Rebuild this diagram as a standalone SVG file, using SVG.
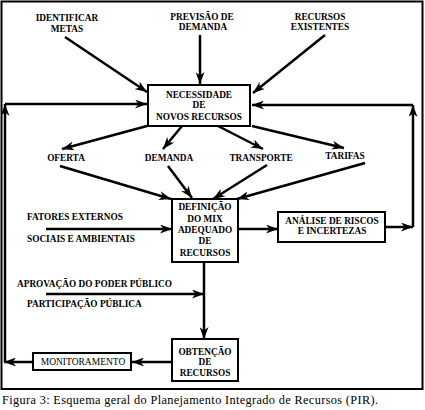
<svg xmlns="http://www.w3.org/2000/svg" width="425" height="410" viewBox="0 0 425 410">
<defs>
<marker id="ah" markerUnits="userSpaceOnUse" markerWidth="13" markerHeight="9" refX="12" refY="4.5" orient="auto">
<path d="M0,0 L12,4.5 L0,9 L3.5,4.5 z" fill="#000"/>
</marker>
</defs>
<style>
.lbl{font-family:"Liberation Serif","Times New Roman",serif;font-weight:bold;font-size:9.3px;fill:#000}
.reg{font-family:"Liberation Serif","Times New Roman",serif;font-size:9.5px;fill:#000}
.cap{font-family:"Liberation Serif","Times New Roman",serif;font-size:12.3px;fill:#000}
.box{fill:#fff;stroke:#000;stroke-width:2}
.c{fill:none;stroke:#000;stroke-width:2.5}
.c.a{marker-end:url(#ah)}
</style>
<rect x="1.5" y="1.5" width="421" height="387.5" fill="none" stroke="#000" stroke-width="2"/>
<g id="connectors">
<line class="c a" x1="65" y1="37" x2="147" y2="92"/>
<line class="c a" x1="200" y1="35" x2="200" y2="84"/>
<line class="c a" x1="325" y1="35" x2="253" y2="93"/>
<polyline class="c a" points="5,362 5,104"/>
<line class="c a" x1="5" y1="104" x2="147" y2="104"/>
<polyline class="c a" points="386,227 413,227"/>
<polyline class="c a" points="413,227 413,105"/>
<line class="c a" x1="413" y1="105" x2="252" y2="105"/>
<line class="c a" x1="147" y1="126" x2="62" y2="149"/>
<line class="c a" x1="182" y1="126" x2="163" y2="149"/>
<line class="c a" x1="218" y1="126" x2="263" y2="149"/>
<line class="c a" x1="252" y1="126" x2="344" y2="148"/>
<line class="c a" x1="60" y1="166" x2="171" y2="199"/>
<line class="c a" x1="168" y1="166" x2="192" y2="198"/>
<line class="c a" x1="267" y1="165" x2="213" y2="199"/>
<line class="c a" x1="365" y1="163" x2="237" y2="199"/>
<line class="c a" x1="46" y1="229" x2="172" y2="229"/>
<line class="c a" x1="238" y1="229" x2="278" y2="229"/>
<line class="c a" x1="204" y1="262" x2="204" y2="339"/>
<line class="c a" x1="46" y1="294" x2="204" y2="294"/>
<line class="c a" x1="172" y1="362" x2="132" y2="362"/>
<line class="c a" x1="33" y1="362" x2="4" y2="362"/>
</g>
<g id="identificar">
<text class="lbl" x="67" y="21" text-anchor="middle">IDENTIFICAR</text>
<text class="lbl" x="67" y="32" text-anchor="middle">METAS</text>
</g>
<g id="previsao">
<text class="lbl" x="202" y="19.5" text-anchor="middle">PREVISÃO DE</text>
<text class="lbl" x="203" y="29.5" text-anchor="middle">DEMANDA</text>
</g>
<g id="recursos-existentes">
<text class="lbl" x="320" y="19.5" text-anchor="middle">RECURSOS</text>
<text class="lbl" x="320" y="29.5" text-anchor="middle">EXISTENTES</text>
</g>
<g id="necessidade">
<rect class="box" x="148" y="85" width="102" height="41"/>
<text class="lbl" x="199" y="97.5" text-anchor="middle">NECESSIDADE</text>
<text class="lbl" x="199" y="108" text-anchor="middle">DE</text>
<text class="lbl" x="199" y="119.5" text-anchor="middle">NOVOS RECURSOS</text>
</g>
<g id="oferta"><text class="lbl" x="66" y="161" text-anchor="middle">OFERTA</text></g>
<g id="demanda"><text class="lbl" x="169" y="161" text-anchor="middle">DEMANDA</text></g>
<g id="transporte"><text class="lbl" x="261" y="161" text-anchor="middle">TRANSPORTE</text></g>
<g id="tarifas"><text class="lbl" x="345" y="158.5" text-anchor="middle">TARIFAS</text></g>
<g id="definicao">
<rect class="box" x="172" y="199" width="66" height="63"/>
<text class="lbl" x="205" y="210" text-anchor="middle">DEFINIÇÃO</text>
<text class="lbl" x="205" y="222" text-anchor="middle">DO MIX</text>
<text class="lbl" x="205" y="233" text-anchor="middle">ADEQUADO</text>
<text class="lbl" x="205" y="244" text-anchor="middle">DE</text>
<text class="lbl" x="205" y="255.5" text-anchor="middle">RECURSOS</text>
</g>
<g id="analise">
<rect class="box" x="278" y="212" width="107" height="30"/>
<text class="lbl" x="332" y="223.5" text-anchor="middle">ANÁLISE DE RISCOS</text>
<text class="lbl" x="332" y="233.5" text-anchor="middle">E INCERTEZAS</text>
</g>
<g id="fatores">
<text class="lbl" x="27" y="220">FATORES EXTERNOS</text>
<text class="lbl" x="27" y="242">SOCIAIS E AMBIENTAIS</text>
</g>
<g id="aprovacao">
<text class="lbl" x="17" y="287">APROVAÇÃO DO PODER PÚBLICO</text>
<text class="lbl" x="27" y="307">PARTICIPAÇÃO PÚBLICA</text>
</g>
<g id="obtencao">
<rect class="box" x="172" y="339" width="66" height="42"/>
<text class="lbl" x="205" y="355" text-anchor="middle">OBTENÇÃO</text>
<text class="lbl" x="205" y="365" text-anchor="middle">DE</text>
<text class="lbl" x="205" y="375.5" text-anchor="middle">RECURSOS</text>
</g>
<g id="monitoramento">
<rect class="box" x="33" y="353" width="98" height="17"/>
<text class="reg" x="83" y="365" text-anchor="middle">MONITORAMENTO</text>
</g>
<text class="cap" x="2" y="404" textLength="376" lengthAdjust="spacing">Figura 3: Esquema geral do Planejamento Integrado de Recursos (PIR).</text>
</svg>
